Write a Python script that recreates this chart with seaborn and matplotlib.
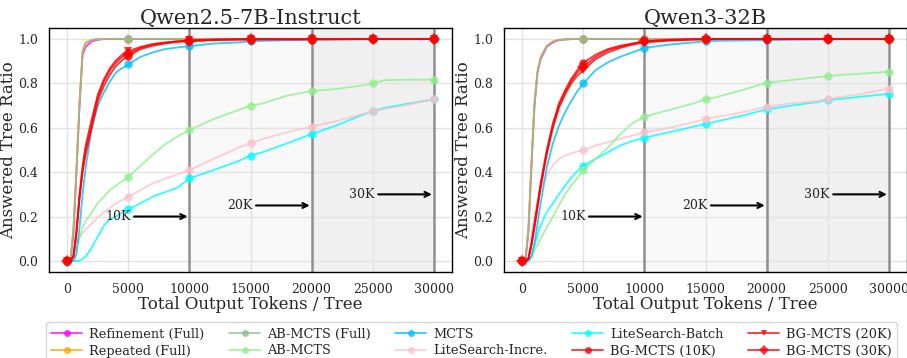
import numpy as np
import pandas as pd
import matplotlib
matplotlib.use("Agg")
import matplotlib.pyplot as plt
from matplotlib.lines import Line2D
import seaborn as sns

# ---------------- data ----------------
tokens = [0, 250, 500, 750, 1000, 1250, 1500, 2000, 2500, 3000, 3500, 4000, 4500, 5000,
          6000, 7000, 8000, 9000, 10000, 12000, 14000, 15000, 16000, 18000, 20000,
          22000, 24000, 25000, 26000, 28000, 30000]

titles = ["Qwen2.5-7B-Instruct", "Qwen3-32B"]

# Qwen2.5-7B-Instruct
q25_refinement = [0, 0, 0.12, 0.40, 0.70, 0.93, 0.965, 0.99, 0.997, 1.0, 1.0, 1.0, 1.0, 1.0,
                  1.0, 1.0, 1.0, 1.0, 1.0, 1.0, 1.0, 1.0, 1.0, 1.0, 1.0, 1.0, 1.0, 1.0, 1.0, 1.0, 1.0]
q25_repeated = [0, 0, 0.15, 0.42, 0.72, 0.95, 0.985, 0.997, 1.0, 1.0, 1.0, 1.0, 1.0, 1.0,
                1.0, 1.0, 1.0, 1.0, 1.0, 1.0, 1.0, 1.0, 1.0, 1.0, 1.0, 1.0, 1.0, 1.0, 1.0, 1.0, 1.0]
q25_abmcts_full = [0, 0, 0.14, 0.41, 0.71, 0.94, 0.98, 0.996, 1.0, 1.0, 1.0, 1.0, 1.0, 1.0,
                   1.0, 1.0, 1.0, 1.0, 1.0, 1.0, 1.0, 1.0, 1.0, 1.0, 1.0, 1.0, 1.0, 1.0, 1.0, 1.0, 1.0]
q25_abmcts = [0, 0, 0.02, 0.06, 0.10, 0.15, 0.18, 0.22, 0.26, 0.29, 0.32, 0.34, 0.36, 0.378,
              0.43, 0.48, 0.525, 0.56, 0.59, 0.64, 0.68, 0.70, 0.71, 0.745, 0.766,
              0.775, 0.79, 0.80, 0.815, 0.817, 0.817]
q25_mcts = [0, 0, 0, 0.03, 0.15, 0.30, 0.42, 0.60, 0.70, 0.76, 0.81, 0.85, 0.87, 0.886,
            0.92, 0.94, 0.955, 0.962, 0.968, 0.98, 0.985, 0.99, 0.992, 0.995, 0.997,
            0.998, 0.999, 1.0, 1.0, 1.0, 1.0]
q25_lite_incre = [0, 0, 0.02, 0.09, 0.11, 0.125, 0.14, 0.17, 0.195, 0.22, 0.24, 0.26, 0.275, 0.29,
                  0.32, 0.35, 0.37, 0.39, 0.41, 0.46, 0.51, 0.53, 0.55, 0.58, 0.605,
                  0.63, 0.66, 0.675, 0.685, 0.705, 0.73]
q25_lite_batch = [0, 0, 0, 0, 0, 0.01, 0.02, 0.06, 0.11, 0.16, 0.19, 0.20, 0.22, 0.232,
                  0.26, 0.29, 0.31, 0.33, 0.372, 0.41, 0.45, 0.475, 0.49, 0.53, 0.572,
                  0.61, 0.655, 0.675, 0.69, 0.71, 0.728]
q25_bg10k = [0, 0, 0.02, 0.12, 0.28, 0.40, 0.48, 0.60, 0.72, 0.79, 0.84, 0.88, 0.905, 0.925,
             0.955, 0.97, 0.98, 0.987, 0.99, 0.995, 0.997, 0.997, 0.998, 0.998, 0.998,
             0.999, 1.0, 1.0, 1.0, 1.0, 1.0]
q25_bg20k = [0, 0, 0.02, 0.14, 0.30, 0.43, 0.52, 0.64, 0.75, 0.82, 0.87, 0.905, 0.93, 0.945,
             0.965, 0.978, 0.985, 0.99, 0.995, 0.998, 1.0, 1.0, 1.0, 1.0, 1.0,
             1.0, 1.0, 1.0, 1.0, 1.0, 1.0]
q25_bg30k = [0, 0, 0.02, 0.13, 0.29, 0.41, 0.50, 0.62, 0.74, 0.81, 0.86, 0.895, 0.92, 0.935,
             0.96, 0.975, 0.983, 0.99, 0.993, 0.997, 0.999, 1.0, 1.0, 1.0, 1.0,
             1.0, 1.0, 1.0, 1.0, 1.0, 1.0]

# Qwen3-32B
q3_refinement = [0, 0, 0.13, 0.43, 0.70, 0.85, 0.91, 0.965, 0.985, 0.995, 0.998, 1.0, 1.0, 1.0,
                 1.0, 1.0, 1.0, 1.0, 1.0, 1.0, 1.0, 1.0, 1.0, 1.0, 1.0, 1.0, 1.0, 1.0, 1.0, 1.0, 1.0]
q3_repeated = [0, 0, 0.15, 0.45, 0.72, 0.86, 0.92, 0.97, 0.99, 0.997, 0.999, 1.0, 1.0, 1.0,
               1.0, 1.0, 1.0, 1.0, 1.0, 1.0, 1.0, 1.0, 1.0, 1.0, 1.0, 1.0, 1.0, 1.0, 1.0, 1.0, 1.0]
q3_abmcts_full = [0, 0, 0.14, 0.44, 0.71, 0.855, 0.915, 0.968, 0.988, 0.996, 0.999, 1.0, 1.0, 1.0,
                  1.0, 1.0, 1.0, 1.0, 1.0, 1.0, 1.0, 1.0, 1.0, 1.0, 1.0, 1.0, 1.0, 1.0, 1.0, 1.0, 1.0]
q3_abmcts = [0, 0, 0, 0.02, 0.05, 0.07, 0.10, 0.15, 0.20, 0.25, 0.30, 0.34, 0.375, 0.41,
             0.46, 0.51, 0.57, 0.62, 0.65, 0.68, 0.71, 0.728, 0.74, 0.77, 0.803,
             0.815, 0.828, 0.833, 0.838, 0.845, 0.853]
q3_mcts = [0, 0, 0, 0.02, 0.08, 0.17, 0.26, 0.42, 0.53, 0.61, 0.67, 0.72, 0.765, 0.80,
           0.86, 0.895, 0.92, 0.94, 0.96, 0.975, 0.985, 0.99, 0.992, 0.994, 0.995,
           0.997, 0.998, 0.999, 1.0, 1.0, 1.0]
q3_lite_incre = [0, 0, 0.02, 0.12, 0.20, 0.27, 0.32, 0.385, 0.43, 0.46, 0.475, 0.485, 0.493, 0.50,
                 0.52, 0.535, 0.55, 0.565, 0.58, 0.60, 0.625, 0.64, 0.65, 0.67, 0.695,
                 0.71, 0.72, 0.73, 0.738, 0.755, 0.777]
q3_lite_batch = [0, 0, 0, 0.02, 0.07, 0.12, 0.16, 0.22, 0.26, 0.30, 0.34, 0.375, 0.405, 0.43,
                 0.46, 0.49, 0.52, 0.54, 0.555, 0.58, 0.605, 0.618, 0.63, 0.655, 0.683,
                 0.70, 0.715, 0.725, 0.73, 0.742, 0.753]
q3_bg10k = [0, 0, 0.01, 0.08, 0.17, 0.26, 0.35, 0.50, 0.62, 0.71, 0.77, 0.82, 0.86, 0.893,
            0.93, 0.955, 0.97, 0.98, 0.99, 0.997, 1.0, 1.0, 1.0, 1.0, 1.0,
            1.0, 1.0, 1.0, 1.0, 1.0, 1.0]
q3_bg20k = [0, 0, 0.01, 0.07, 0.15, 0.24, 0.33, 0.48, 0.60, 0.69, 0.75, 0.80, 0.835, 0.86,
            0.91, 0.94, 0.96, 0.975, 0.985, 0.993, 0.997, 0.998, 1.0, 1.0, 1.0,
            1.0, 1.0, 1.0, 1.0, 1.0, 1.0]
q3_bg30k = [0, 0, 0.01, 0.075, 0.16, 0.25, 0.34, 0.49, 0.61, 0.70, 0.76, 0.81, 0.85, 0.875,
            0.92, 0.95, 0.965, 0.978, 0.99, 0.996, 0.999, 1.0, 1.0, 1.0, 1.0,
            1.0, 1.0, 1.0, 1.0, 1.0, 1.0]

methods = ["Refinement (Full)", "Repeated (Full)", "AB-MCTS (Full)", "AB-MCTS", "MCTS",
           "LiteSearch-Incre.", "LiteSearch-Batch", "BG-MCTS (10K)", "BG-MCTS (20K)",
           "BG-MCTS (30K)"]
series = {
    titles[0]: [q25_refinement, q25_repeated, q25_abmcts_full, q25_abmcts, q25_mcts,
                q25_lite_incre, q25_lite_batch, q25_bg10k, q25_bg20k, q25_bg30k],
    titles[1]: [q3_refinement, q3_repeated, q3_abmcts_full, q3_abmcts, q3_mcts,
                q3_lite_incre, q3_lite_batch, q3_bg10k, q3_bg20k, q3_bg30k],
}
budgets = [10000, 20000, 30000]
budget_labels = ["10K", "20K", "30K"]
label_x = [3100, 13100, 23100]
label_y = [0.20, 0.25, 0.30]
marker_tokens = [0, 5000, 10000, 15000, 20000, 25000, 30000]

# ---------------- style ----------------
colors = ["magenta", "orange", "darkseagreen", "lightgreen", "deepskyblue",
          "pink", "aqua", "red", "red", "red"]
markers = ["o", "o", "o", "o", "o", "o", "o", "o", "v", "D"]

sns.set_theme(style="whitegrid")
plt.rcParams["font.family"] = ["DejaVu Serif"]
plt.rcParams["axes.edgecolor"] = "black"
plt.rcParams["axes.linewidth"] = 1.0
plt.rcParams["grid.color"] = "#e3e3e3"
plt.rcParams["grid.linewidth"] = 1.0

fig = plt.figure(figsize=(9.07, 3.58), dpi=100)
ax_w = 403 / 907
ax_b = 1 - 272 / 358
ax_h = (272 - 28) / 358
axes = [fig.add_axes([49 / 907, ax_b, ax_w, ax_h]),
        fig.add_axes([504 / 907, ax_b, ax_w, ax_h])]

mk_idx = [tokens.index(t) for t in marker_tokens]

for ax, title in zip(axes, titles):
    ax.axvspan(budgets[0], budgets[2], color="grey", alpha=0.05, lw=0, zorder=0)
    ax.axvspan(budgets[1], budgets[2], color="grey", alpha=0.06, lw=0, zorder=0)
    for b in budgets:
        ax.axvline(b, color="grey", lw=1.8, alpha=0.85, zorder=1)
    order = [6, 5, 3, 4, 0, 1, 2, 7, 8, 9]
    for i in order:
        df = pd.DataFrame({"tokens": tokens, "ratio": series[title][i]})
        sns.lineplot(data=df, x="tokens", y="ratio", ax=ax, color=colors[i],
                     marker=markers[i], markevery=mk_idx, markersize=6,
                     markeredgewidth=0, lw=1.3, alpha=0.8, label=methods[i],
                     legend=False, zorder=3)
    for b, lab, lx, ly in zip(budgets, budget_labels, label_x, label_y):
        ax.annotate(lab, xy=(b - 150, ly), xytext=(lx, ly), va="center", ha="left",
                    fontsize=9, arrowprops=dict(arrowstyle="->", color="black", lw=1.5,
                                                shrinkA=0, shrinkB=0), zorder=5)
    ax.set_xlim(-1500, 31500)
    ax.set_ylim(-0.05, 1.05)
    ax.set_xticks(marker_tokens)
    ax.set_yticks([0, 0.2, 0.4, 0.6, 0.8, 1.0])
    ax.set_yticklabels(["0.0", "0.2", "0.4", "0.6", "0.8", "1.0"])
    ax.tick_params(labelsize=9, pad=2)
    ax.set_title(title, fontsize=15, pad=3)
    ax.set_xlabel("Total Output Tokens / Tree", fontsize=12, labelpad=0)
    ax.set_ylabel("Answered Tree Ratio", fontsize=12, labelpad=1)
    for s in ax.spines.values():
        s.set_color("black")

handles = []
for i, m in enumerate(methods):
    handles.append(Line2D([], [], color=colors[i], marker=markers[i], markersize=5,
                          markeredgewidth=0, lw=1.3, alpha=0.8, label=m))
fig.legend(handles=handles, loc="upper center", bbox_to_anchor=(0.52, 1 - 316 / 358),
           ncol=5, fontsize=9.3, frameon=True, columnspacing=1.9, handlelength=2.4,
           handletextpad=0.55, borderpad=0.4, labelspacing=0.3, edgecolor="#cccccc",
           fancybox=True)

fig.savefig("out.png", dpi=100)
